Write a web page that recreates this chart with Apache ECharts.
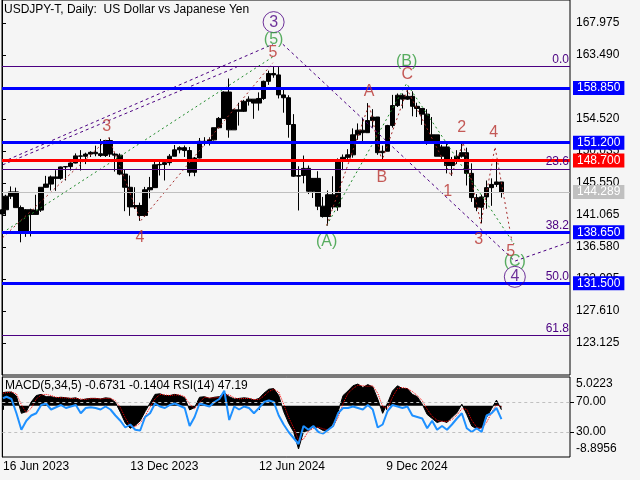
<!DOCTYPE html>
<html>
<head>
<meta charset="utf-8">
<title>USDJPY-T, Daily</title>
<script src="https://cdn.jsdelivr.net/npm/echarts@6.0.0/dist/echarts.min.js"></script>
<style>
  html, body { margin: 0; padding: 0; background: #f5f5f5; }
  #chart { width: 640px; height: 480px; }
</style>
</head>
<body>
<div id="chart"></div>
<script>
var FONT = 'Liberation Sans, Arial, sans-serif';

// weekly bars (first one is the single day 16 Jun 2023)
var opens = [141.2,141.8,143.7,144.3,142.1,138.8,141.8,141.15,141.75,144.95,
    145.4,146.4,146.2,147.8,147.85,148.35,149.35,149.3,149.6,149.85,
    149.65,149.4,151.5,149.6,149.45,146.8,144.95,142.2,142.4,141.0,
    144.6,144.9,148.1,148.15,148.4,149.3,150.2,150.5,150.1,147.05,
    149.05,151.4,151.35,151.6,153.3,154.6,158.3,153.0,155.8,155.6,
    157.0,157.3,156.75,157.4,159.8,160.9,160.7,157.9,157.5,153.75,
    146.5,146.6,147.6,144.4,146.2,142.3,140.85,143.9,142.2,148.7,
    149.15,149.5,152.3,152.95,152.6,154.3,154.8,149.8,150.0,153.6,
    156.4,157.85,157.3,157.7,156.3,156.0,155.2,151.4,152.3,149.3,
    150.6,148.0,148.6,149.3,149.8,146.9,143.5,142.15,143.6,144.9,
    145.35,145.7];
var closes = [141.8,143.7,144.3,142.1,138.8,141.8,141.15,141.75,144.95,145.4,
    146.4,146.2,147.8,147.85,148.35,149.35,149.3,149.6,149.85,149.65,
    149.4,151.5,149.6,149.45,146.8,144.95,142.2,142.4,141.0,144.6,
    144.9,148.1,148.15,148.4,149.3,150.2,150.5,150.1,147.05,149.05,
    151.4,151.35,151.6,153.3,154.6,158.3,153.0,155.8,155.6,157.0,
    157.3,156.75,157.4,159.8,160.9,160.7,157.9,157.5,153.75,146.5,
    146.6,147.6,144.4,146.2,142.3,140.85,143.9,142.2,148.7,149.15,
    149.5,152.3,152.95,152.6,154.3,154.8,149.8,150.0,153.6,156.4,
    157.85,157.3,157.7,156.3,156.0,155.2,151.4,152.3,149.3,150.6,
    148.0,148.6,149.3,149.8,146.9,143.5,142.15,143.6,144.9,145.35,
    145.7,144.29];
var lows = [140.9,141.0,143.3,142.1,137.24,138.0,138.05,141.1,141.5,144.9,
    144.5,144.45,146.0,145.9,147.3,148.3,147.3,148.2,149.2,149.3,
    149.2,149.2,149.2,147.15,146.65,141.6,140.95,141.9,140.25,140.8,
    143.4,144.9,146.6,145.9,148.0,149.3,149.7,149.2,146.5,146.5,
    149.0,150.8,150.8,151.5,153.2,154.6,151.9,153.0,153.6,155.5,
    156.4,154.55,155.7,157.2,159.3,160.3,157.4,155.4,151.9,146.4,
    141.7,145.5,144.0,143.45,141.75,140.7,139.58,141.9,141.65,147.35,
    148.8,149.1,151.6,151.3,152.6,153.3,149.5,148.65,150.0,153.3,
    156.2,156.0,157.2,154.9,154.8,153.7,150.9,151.3,149.3,148.55,
    146.9,146.55,148.2,149.1,145.2,142.9,141.6,139.9,141.95,142.35,
    145.0,143.5];
var highs = [142.2,143.9,145.07,144.9,142.4,141.9,141.95,143.9,144.95,146.55,
    146.6,147.35,147.85,147.9,148.45,149.7,150.16,149.8,150.0,150.78,
    151.72,151.6,151.92,149.75,149.7,147.5,146.6,144.96,142.8,145.0,
    146.4,148.8,148.7,148.6,149.6,150.88,150.7,150.8,150.6,149.2,
    151.86,151.97,151.95,153.3,154.8,158.4,160.2,155.95,156.8,157.2,
    157.7,157.3,158.25,159.9,161.3,161.95,161.8,158.9,157.85,155.2,
    147.9,149.4,148.0,146.25,147.2,143.6,144.5,146.5,149.0,149.55,
    150.3,153.2,153.9,154.7,156.75,155.9,154.8,150.8,153.7,157.9,
    158.1,158.1,158.87,158.4,156.8,156.0,155.9,154.8,152.3,150.9,
    151.3,149.2,150.15,151.2,150.5,148.3,144.0,143.9,145.9,146.2,
    148.65,145.7];

// MACD(5,34,5) histogram, its signal and RSI(14), same weeks
var macdHist = [2.3,2.4,2.4,1.7,-1.3,-1.0,0.7,1.8,2.0,1.6,
    1.6,1.4,1.5,1.4,1.3,1.4,1.0,1.2,1.3,1.3,
    1.2,1.4,1.3,0.6,-1.1,-3.0,-3.9,-3.4,-2.6,-1.0,
    0.5,2.0,2.1,1.8,1.8,2.0,1.8,1.4,-0.7,-0.3,
    1.5,1.6,1.3,1.5,1.6,2.3,1.6,1.2,1.3,1.4,
    1.3,1.0,1.3,2.2,2.9,3.0,1.8,-1.0,-3.0,-4.5,
    -7.5,-4.5,-4.3,-3.6,-3.8,-4.3,-4.2,-3.0,-1.0,1.8,
    2.6,3.5,3.8,3.2,3.7,3.3,1.2,-1.3,0.5,2.6,
    3.5,3.0,3.0,2.0,1.6,0.3,-1.5,-2.2,-2.9,-2.6,
    -2.9,-2.0,-1.2,0.3,-1.5,-3.5,-4.0,-3.8,-2.0,-0.5,
    1.0,-0.6731];
var macdSignal = [2.2,2.3,2.4,2.1,0.2,-1.2,-0.4,1.2,1.9,2.0,
    1.8,1.5,1.4,1.4,1.3,1.3,1.2,1.1,1.3,1.3,
    1.2,1.3,1.3,0.9,-0.3,-2.1,-3.5,-3.6,-3.0,-1.8,
    -0.2,1.2,2.0,1.9,1.8,1.9,1.9,1.6,0.3,-0.5,
    0.6,1.5,1.4,1.4,1.5,1.9,1.9,1.4,1.2,1.3,
    1.3,1.1,1.1,1.7,2.5,2.9,2.4,0.3,-2.0,-3.8,
    -6.0,-5.8,-4.4,-3.9,-3.7,-4.0,-4.2,-3.6,-2.0,0.4,
    2.2,3.0,3.6,3.5,3.4,3.5,2.2,-0.1,-0.4,1.5,
    3.0,3.2,3.0,2.5,1.8,0.9,-0.6,-1.8,-2.5,-2.7,
    -2.7,-2.4,-1.6,-0.5,-0.6,-2.5,-3.7,-3.9,-2.9,-1.2,
    0.2,-0.1404];
var rsiValues = [75,77,74,55,33,45,52,55,66,68,
    60,63,66,62,64,66,55,62,63,62,
    60,64,60,52,45,36,40,33,32,50,
    55,68,64,62,66,68,65,62,38,50,
    68,66,64,70,74,85,46,64,60,64,
    62,55,62,70,72,70,52,40,30,22,
    14,38,33,38,30,28,33,38,55,62,
    62,64,62,60,66,60,36,40,58,66,
    64,62,64,52,50,48,35,45,33,38,
    33,40,48,55,35,30,35,30,52,55,
    62,47.19];

// axis ticks
var priceTicks = [167.975, 163.490, 159.005, 154.520, 150.035, 145.550, 141.065, 136.580, 132.095, 127.610, 123.125];
var dateTicks = ['2023-06-16', '2023-12-13', '2024-06-12', '2024-12-09'];
var dateTickLabels = ['16 Jun 2023', '13 Dec 2023', '12 Jun 2024', '9 Dec 2024'];

// horizontal levels
var blueLevels = [158.85, 151.2, 138.65, 131.5];
var redLevels = [148.7];
var lastPrice = 144.289;
var fibLevels = [161.9, 147.5, 138.6, 131.4, 124.2];
var fibNames = ['0.0', '23.6', '38.2', '50.0', '61.8'];

// wave count lines, [date, price]
var purpleUpper = [['2023-06-16', 148.5], ['2024-07-02', 165.0]];
var purpleLower = [['2023-06-16', 148.1], ['2024-05-12', 161.8]];
var purpleWave = [['2024-07-16', 165.0], ['2025-06-09', 134.6], ['2025-08-26', 137.3]];
var greenImpulse = [['2023-06-16', 138.6], ['2024-07-03', 163.3]];
var greenABC = [['2024-09-16', 139.6], ['2025-01-07', 159.5], ['2025-06-08', 137.0]];
var redImpulse = [['2023-06-16', 137.9], ['2023-11-13', 151.9], ['2023-12-28', 140.25], ['2024-07-02', 162.4]];
var redWaves = [['2024-09-16', 139.6], ['2024-11-15', 156.6], ['2024-12-03', 148.65], ['2025-01-08', 158.6],
    ['2025-03-11', 146.55], ['2025-03-28', 151.2], ['2025-04-22', 139.9], ['2025-05-12', 150.6], ['2025-06-05', 137.3]];

// wave labels
var circleText = ['3', '4'];
var circleDates = ['2024-07-03', '2025-06-09'];
var circlePrices = [168.1, 132.4];
var greenText = ['(5)', '(A)', '(B)', '(C)'];
var greenDates = ['2024-07-03', '2024-09-16', '2025-01-07', '2025-06-09'];
var greenPrices = [165.6, 137.3, 162.6, 134.5];
var redText = ['3', '4', '5', 'A', 'B', 'C', '1', '2', '3', '4', '5'];
var redDates = ['2023-11-10', '2023-12-27', '2024-07-02', '2024-11-15', '2024-12-03', '2025-01-08',
    '2025-03-06', '2025-03-26', '2025-04-19', '2025-05-10', '2025-06-03'];
var redPrices = [153.4, 137.9, 163.8, 158.3, 146.3, 160.7, 144.4, 153.3, 137.6, 152.6, 135.9];

var PURPLE = '#4b0082';
var GREEN = '#2f9a3a';
var RED = '#b8322e';

// days since 15 Jun 2023
function day(s) {
    var p = s.split('-');
    return (Date.UTC(+p[0], +p[1] - 1, +p[2]) - Date.UTC(2023, 5, 15)) / 86400000;
}

// bar 0 is 16 Jun 2023, the others sit on the Wednesday of each week
function barDay(i) {
    return i === 0 ? day('2023-06-16') : day('2023-06-21') + 7 * (i - 1);
}

var X_MAX = day('2025-08-26');
var dateTickDays = dateTicks.map(day);

function pathData(path) {
    return path.map(function (p) { return [day(p[0]), p[1]]; });
}

function waveLine(path, color, dash) {
    return {
        type: 'line', xAxisIndex: 0, yAxisIndex: 0, silent: true, z: 4,
        symbol: 'none', data: pathData(path),
        lineStyle: { color: color, width: 1, type: dash }
    };
}

function waveLabels(texts, dates, prices, color, circled) {
    var data = [];
    for (var i = 0; i < texts.length; i++) {
        data.push({ name: texts[i], value: [day(dates[i]), prices[i]] });
    }
    return {
        type: 'scatter', xAxisIndex: 0, yAxisIndex: 0, silent: true, z: 6,
        symbol: 'circle', symbolSize: circled ? 21 : 1,
        itemStyle: {
            color: 'rgba(0,0,0,0)',
            borderColor: circled ? color : 'rgba(0,0,0,0)',
            borderWidth: 1
        },
        label: {
            show: true, position: 'inside', formatter: '{b}',
            color: color, fontSize: 16, fontFamily: FONT
        },
        data: data
    };
}

function priceTag(v, bg, width) {
    return {
        yAxis: v,
        lineStyle: { color: bg, width: width, type: 'solid' },
        label: {
            show: true, position: 'end', distance: 3, formatter: v.toFixed(3),
            color: '#fff', backgroundColor: bg, padding: [1, 4, 1, 4],
            fontSize: 12, fontFamily: FONT
        }
    };
}

var candles = opens.map(function (o, i) {
    return [barDay(i), o, closes[i], lows[i], highs[i]];
});

var levelLines = [];
fibLevels.forEach(function (v, i) {
    levelLines.push({
        yAxis: v,
        lineStyle: { color: PURPLE, width: 1, type: 'solid' },
        label: {
            show: true, position: 'insideEndTop', distance: 1, formatter: fibNames[i],
            color: PURPLE, fontSize: 12, fontFamily: FONT
        }
    });
});
levelLines.push(priceTag(lastPrice, '#c0c0c0', 1));
redLevels.forEach(function (v) { levelLines.push(priceTag(v, '#ff0000', 3)); });
blueLevels.forEach(function (v) { levelLines.push(priceTag(v, '#0000ff', 3)); });

var chart = echarts.init(document.getElementById('chart'));
var option = {
    backgroundColor: '#f5f5f5',
    animation: false,
    textStyle: { fontFamily: FONT },
    title: [{
        text: 'USDJPY-T, Daily:  US Dollar vs Japanese Yen',
        left: 4, top: 4, padding: 0,
        textStyle: { fontSize: 12, fontWeight: 'normal', color: '#000', fontFamily: FONT }
    }, {
        text: 'MACD(5,34,5) -0.6731 -0.1404 RSI(14) 47.19',
        left: 5, top: 380, padding: 0,
        textStyle: { fontSize: 12, fontWeight: 'normal', color: '#000', fontFamily: FONT }
    }],
    grid: [
        { left: 2, top: 0, width: 568, height: 375, show: true, borderColor: '#000', borderWidth: 1, backgroundColor: 'transparent' },
        { left: 2, top: 377, width: 568, height: 80, show: true, borderColor: '#000', borderWidth: 1, backgroundColor: 'transparent' }
    ],
    xAxis: [{
        gridIndex: 0, type: 'value', min: 0, max: X_MAX, show: false
    }, {
        gridIndex: 1, type: 'value', min: 0, max: X_MAX,
        axisLine: { show: false },
        splitLine: { show: false },
        axisTick: { show: true, length: 4, customValues: dateTickDays, lineStyle: { color: '#000' } },
        axisLabel: {
            customValues: dateTickDays, align: 'left', margin: 4,
            color: '#000', fontSize: 12, fontFamily: FONT,
            formatter: function (v) { return dateTickLabels[dateTickDays.indexOf(v)]; }
        }
    }],
    yAxis: [{
        gridIndex: 0, type: 'value', position: 'right', min: 118.640, max: 171.199,
        splitLine: { show: false },
        axisLine: { show: true, lineStyle: { color: '#000' } },
        axisTick: { show: true, length: 4, customValues: priceTicks, lineStyle: { color: '#000' } },
        axisLabel: {
            customValues: priceTicks, margin: 6, color: '#000', fontSize: 12, fontFamily: FONT,
            formatter: function (v) { return v.toFixed(3); }
        }
    }, {
        // MACD scale
        gridIndex: 1, type: 'value', position: 'right', min: -8.8956, max: 5.0223,
        splitLine: { show: false },
        axisLine: { show: true, lineStyle: { color: '#000' } },
        axisTick: { show: false },
        axisLabel: {
            customValues: [5.0223, -8.8956], margin: 6, color: '#000', fontSize: 12, fontFamily: FONT,
            formatter: function (v) { return v > 0 ? '{t|5.0223}' : '{b|-8.8956}'; },
            rich: {
                t: { padding: [14, 0, 0, 0], fontSize: 12, color: '#000', fontFamily: FONT },
                b: { padding: [0, 0, 16, 0], fontSize: 12, color: '#000', fontFamily: FONT }
            }
        }
    }, {
        // RSI scale
        gridIndex: 1, type: 'value', position: 'right', min: -3.33, max: 103.33,
        splitLine: { show: false },
        axisLine: { show: false },
        axisTick: { show: true, length: 4, customValues: [70, 30], lineStyle: { color: '#000' } },
        axisLabel: {
            customValues: [70, 30], margin: 6, color: '#000', fontSize: 12, fontFamily: FONT,
            formatter: function (v) { return v.toFixed(2); }
        }
    }],
    series: [{
        name: 'USDJPY',
        type: 'candlestick',
        xAxisIndex: 0, yAxisIndex: 0, z: 2,
        dimensions: ['day', 'open', 'close', 'lowest', 'highest'],
        encode: { x: 'day', y: ['open', 'close', 'lowest', 'highest'] },
        barWidth: 5,
        itemStyle: { color: '#000', color0: '#000', borderColor: '#000', borderColor0: '#000', borderWidth: 1 },
        data: candles
    }, {
        name: 'levels',
        type: 'line', xAxisIndex: 0, yAxisIndex: 0, z: 3,
        data: [],
        markLine: { silent: true, symbol: 'none', animation: false, data: levelLines }
    },
    waveLine(purpleUpper, PURPLE, [3, 3]),
    waveLine(purpleLower, PURPLE, [3, 3]),
    waveLine(purpleWave, PURPLE, [3, 3]),
    waveLine(greenImpulse, '#1f8a2a', [2, 3]),
    waveLine(greenABC, '#1f8a2a', [2, 3]),
    waveLine(redImpulse, '#a52a2a', [2, 3]),
    waveLine(redWaves, '#a52a2a', [2, 3]),
    waveLabels(circleText, circleDates, circlePrices, PURPLE, true),
    waveLabels(greenText, greenDates, greenPrices, GREEN, false),
    waveLabels(redText, redDates, redPrices, RED, false),
    {
        // histogram drawn as a filled area down to zero
        name: 'MACD',
        type: 'line', xAxisIndex: 1, yAxisIndex: 1, symbol: 'none',
        lineStyle: { width: 1, color: '#000' },
        areaStyle: { color: '#000', opacity: 1, origin: 0 },
        data: macdHist.map(function (v, i) { return [barDay(i), v]; })
    }, {
        name: 'Signal',
        type: 'line', xAxisIndex: 1, yAxisIndex: 1, symbol: 'none',
        lineStyle: { color: '#ff0000', width: 1, type: 'dotted' },
        data: macdSignal.map(function (v, i) { return [barDay(i), v]; })
    }, {
        name: 'RSI',
        type: 'line', xAxisIndex: 1, yAxisIndex: 2, symbol: 'none', z: 3,
        lineStyle: { color: '#1e90ff', width: 2 },
        data: rsiValues.map(function (v, i) { return [barDay(i), v]; }),
        markLine: {
            silent: true, symbol: 'none', animation: false,
            label: { show: false },
            lineStyle: { color: '#c0c0c0', width: 1, type: [3, 3] },
            data: [{ yAxis: 70 }, { yAxis: 30 }]
        }
    }]
};
chart.setOption(option);
</script>
</body>
</html>
